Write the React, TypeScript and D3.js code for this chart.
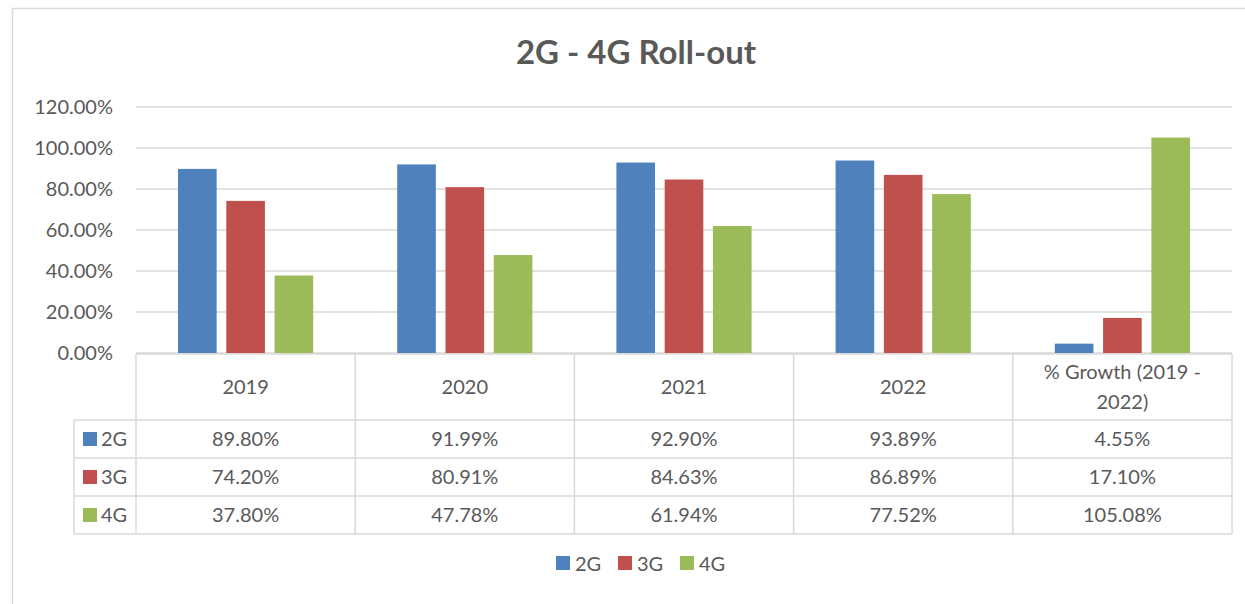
import React, { useEffect, useRef } from 'react';
import * as d3 from 'd3';

// chart data
const categories = ['2019', '2020', '2021', '2022', '% Growth (2019 - 2022)'];
const categoryLines = [['2019'], ['2020'], ['2021'], ['2022'], ['% Growth (2019 -', '2022)']];
const seriesNames = ['2G', '3G', '4G'];
const values2G = [89.8, 91.99, 92.9, 93.89, 4.55];
const values3G = [74.2, 80.91, 84.63, 86.89, 17.1];
const values4G = [37.8, 47.78, 61.94, 77.52, 105.08];
const yTicks = [0, 20, 40, 60, 80, 100, 120];

const colors = ['#4F81BD', '#C0504D', '#9BBB59'];
const textColor = '#595959';
const lineColor = '#d9d9d9';
const font = 'Lato, "Open Sans", sans-serif';
const fontSize = 20;

const App = () => {
  const svgRef = useRef<SVGSVGElement>(null);

  useEffect(() => {
    const svg = d3.select(svgRef.current);
    svg.selectAll('*').remove();

    const width = 1245;
    const height = 604;
    const plot = { left: 136, right: 1232, top: 107, bottom: 353 };
    const table = { keyLeft: 74, headerBottom: 420, rowHeight: 38 };
    const allSeries = [values2G, values3G, values4G];

    // chart frame
    svg.append('rect')
      .attr('x', 12.5).attr('y', 8.5)
      .attr('width', width + 20).attr('height', height + 20)
      .attr('fill', 'white')
      .attr('stroke', lineColor)
      .attr('stroke-width', 1.5);

    // title
    svg.append('text')
      .attr('x', 636).attr('y', 64)
      .attr('text-anchor', 'middle')
      .attr('font-family', font)
      .attr('font-size', 33)
      .attr('font-weight', 'bold')
      .attr('fill', textColor)
      .text('2G - 4G Roll-out');

    const x = d3.scaleBand<string>()
      .domain(categories)
      .range([plot.left, plot.right]);

    const inner = d3.scaleBand<string>()
      .domain(seriesNames)
      .range([42, x.bandwidth() - 42])
      .paddingInner(0.2);

    const y = d3.scaleLinear()
      .domain([0, 120])
      .range([plot.bottom, plot.top]);

    // gridlines
    svg.append('g')
      .selectAll('line')
      .data(yTicks)
      .enter().append('line')
      .attr('x1', plot.left).attr('x2', plot.right)
      .attr('y1', d => y(d)).attr('y2', d => y(d))
      .attr('stroke', lineColor)
      .attr('stroke-width', 1.5);

    // y axis labels
    svg.append('g')
      .selectAll('text')
      .data(yTicks)
      .enter().append('text')
      .attr('x', 113)
      .attr('y', d => y(d) + 7)
      .attr('text-anchor', 'end')
      .attr('font-family', font)
      .attr('font-size', fontSize)
      .attr('fill', textColor)
      .text(d => d.toFixed(2) + '%');

    // bars
    allSeries.forEach((vals, si) => {
      svg.append('g')
        .selectAll('rect')
        .data(vals)
        .enter().append('rect')
        .attr('x', (d, i) => (x(categories[i]) as number) + (inner(seriesNames[si]) as number))
        .attr('y', d => y(d))
        .attr('width', inner.bandwidth())
        .attr('height', d => y(0) - y(d))
        .attr('fill', colors[si]);
    });

    // data table
    const rowsTop = table.headerBottom;
    const tableBottom = rowsTop + table.rowHeight * seriesNames.length;
    const tg = svg.append('g');
    const hline = (x1: number, x2: number, yy: number) =>
      tg.append('line').attr('x1', x1).attr('x2', x2).attr('y1', yy).attr('y2', yy)
        .attr('stroke', lineColor).attr('stroke-width', 1.5);
    const vline = (xx: number, y1: number, y2: number) =>
      tg.append('line').attr('x1', xx).attr('x2', xx).attr('y1', y1).attr('y2', y2)
        .attr('stroke', lineColor).attr('stroke-width', 1.5);

    hline(plot.left, plot.right, y(0) + 1);
    for (let r = 0; r <= seriesNames.length; r++) {
      hline(table.keyLeft, plot.right, rowsTop + r * table.rowHeight);
    }
    vline(table.keyLeft, rowsTop, tableBottom);
    categories.forEach(c => vline(x(c) as number, y(0) + 1, tableBottom));
    vline(plot.right, y(0) + 1, tableBottom);

    // header labels
    categories.forEach((c, i) => {
      const lines = categoryLines[i];
      const cx = (x(c) as number) + x.bandwidth() / 2;
      const mid = (y(0) + rowsTop) / 2;
      lines.forEach((l, li) => {
        tg.append('text')
          .attr('x', cx)
          .attr('y', mid + 7 + (li - (lines.length - 1) / 2) * 30)
          .attr('text-anchor', 'middle')
          .attr('font-family', font)
          .attr('font-size', fontSize)
          .attr('fill', textColor)
          .text(l);
      });
    });

    // series rows
    allSeries.forEach((vals, si) => {
      const ry = rowsTop + si * table.rowHeight;
      tg.append('rect')
        .attr('x', 83).attr('y', ry + 12)
        .attr('width', 14).attr('height', 14)
        .attr('fill', colors[si]);
      tg.append('text')
        .attr('x', 101).attr('y', ry + 26)
        .attr('font-family', font)
        .attr('font-size', fontSize)
        .attr('fill', textColor)
        .text(seriesNames[si]);
      vals.forEach((v, i) => {
        tg.append('text')
          .attr('x', (x(categories[i]) as number) + x.bandwidth() / 2)
          .attr('y', ry + 26)
          .attr('text-anchor', 'middle')
          .attr('font-family', font)
          .attr('font-size', fontSize)
          .attr('fill', textColor)
          .text(v.toFixed(2) + '%');
      });
    });

    // legend
    const legendX = [556, 618, 680];
    seriesNames.forEach((s, si) => {
      const lg = svg.append('g').attr('transform', `translate(${legendX[si]},556)`);
      lg.append('rect').attr('width', 14).attr('height', 14).attr('fill', colors[si]);
      lg.append('text')
        .attr('x', 19).attr('y', 15)
        .attr('font-family', font)
        .attr('font-size', fontSize)
        .attr('fill', textColor)
        .text(s);
    });
  }, []);

  return (
    <svg ref={svgRef} width="1245" height="604"
      style={{ position: 'absolute', left: 0, top: 0, background: 'white' }} />
  );
};

export default App;
